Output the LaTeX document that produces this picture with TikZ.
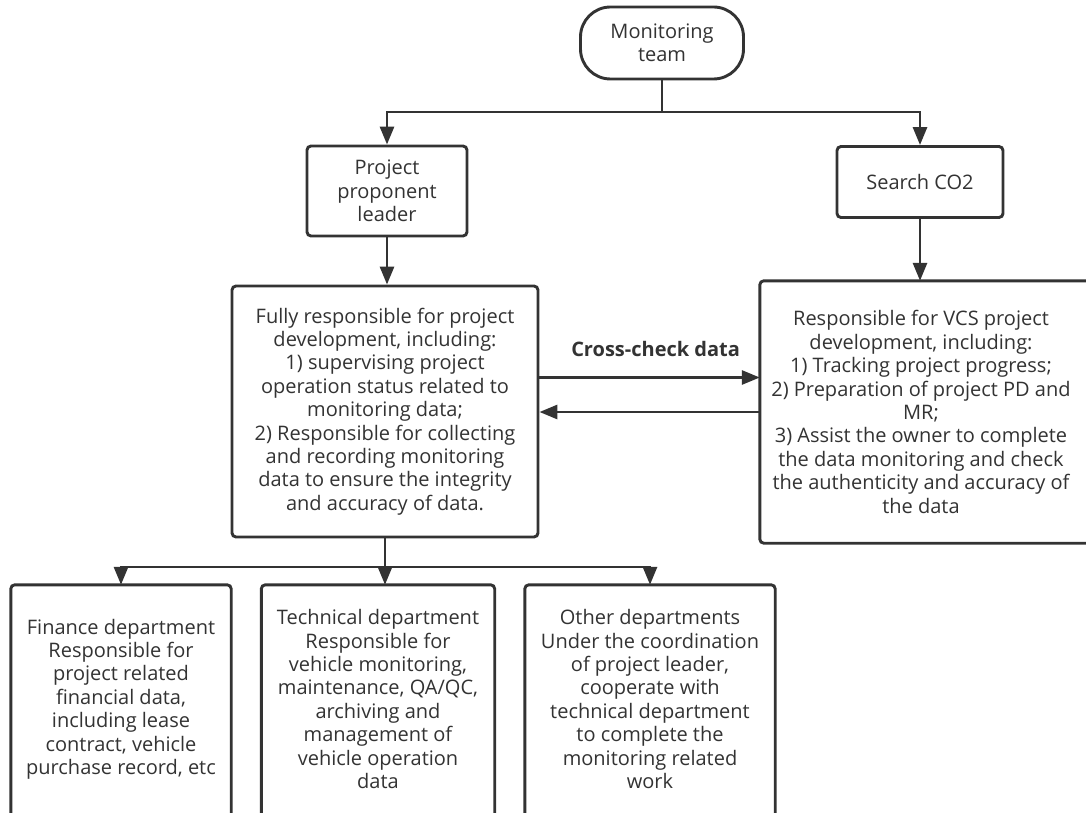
\documentclass[tikz,border=0pt]{standalone}
\usepackage{fontspec}
\setmainfont{Open Sans}
\usetikzlibrary{arrows.meta}
\definecolor{ln}{RGB}{51,51,51}
\definecolor{tx}{RGB}{51,51,51}
\newcommand{\dgfont}{\fontsize{20}{23.4}\selectfont}
\begin{document}
\begin{tikzpicture}[x=1pt,y=-1pt,
  box/.style={draw=ln, line width=2.9pt, rounded corners=4pt},
  txt/.style={align=center, text=tx, font=\dgfont, inner sep=0pt},
  arr/.style={-{Triangle[length=18pt,width=14pt]}, line width=2.9pt, draw=ln},
  ln/.style={line width=2.9pt, draw=ln},
  lbl/.style={font=\dgfont\bfseries, text=tx}]
\useasboundingbox (0,0) rectangle (1086,813);
\clip (0,0) rectangle (1086,813);
\fill[white] (0,0) rectangle (1086,813);

% top
\node (mon) [box, txt, rounded corners=30pt, minimum width=163pt, minimum height=72pt] at (662,43) {Monitoring\\team};
\node (ppl) [box, txt, minimum width=160pt, minimum height=90pt] at (387,191) {Project\\proponent\\leader};
\node (sco) [box, txt, minimum width=166pt, minimum height=71pt] at (920,182) {Search CO2};

% middle
\node (lbox) [box, txt, minimum width=306pt, minimum height=251pt] at (385,411.5) {Fully responsible for project\\development, including:\\1) supervising project\\operation status related to\\monitoring data;\\2) Responsible for collecting\\and recording monitoring\\data to ensure the integrity\\and accuracy of data.};
\node (rbox) [txt, minimum width=322pt, minimum height=262pt] at (921,412) {Responsible for VCS project\\development, including:\\1) Tracking project progress;\\2) Preparation of project PD and\\MR;\\3) Assist the owner to complete\\the data monitoring and check\\the authenticity and accuracy of\\the data};
\draw[box] (rbox.south west) rectangle ([xshift=40pt]rbox.north east);

% bottom
\node (fin) [txt, minimum width=220pt, minimum height=228pt] at (121,699) {Finance department\\Responsible for\\project related\\financial data,\\including lease\\contract, vehicle\\purchase record, etc};
\node (tech) [txt, minimum width=233pt, minimum height=228pt] at (378,699) {Technical department\\Responsible for\\vehicle monitoring,\\maintenance, QA/QC,\\archiving and\\management of\\vehicle operation\\data};
\node (oth) [txt, minimum width=250pt, minimum height=228pt] at (650,699) {Other departments\\Under the coordination\\of project leader,\\cooperate with\\technical department\\to complete the\\monitoring related\\work};
\foreach \n in {fin,tech,oth}
  \draw[box] ([yshift=-30pt]\n.south west) rectangle (\n.north east);

% connectors top
\coordinate (j1) at (662,112);
\draw[ln] (mon.south) -- (j1);
\draw[arr] (j1) -| (ppl.north);
\draw[arr] (j1) -| (sco.north);
\draw[arr] (ppl.south) -- (ppl.south |- lbox.north);
\draw[arr] (sco.south) -- (sco.south |- rbox.north);

% cross-check
\draw[arr] ([yshift=34pt]lbox.east) -- ([yshift=34pt]lbox.east -| rbox.west)
  node[lbl, midway, yshift=29pt, xshift=6pt] {Cross-check data};
\draw[arr] (rbox.west) -- (rbox.west -| lbox.east);

% connectors bottom
\coordinate (j2) at (lbox.south |- 0,567);
\draw[ln] (lbox.south) -- (j2);
\draw[arr] (j2) -- (tech.north -| j2);
\draw[arr] (j2) -| (fin.north);
\draw[arr] (j2) -| (oth.north);
\end{tikzpicture}
\end{document}
